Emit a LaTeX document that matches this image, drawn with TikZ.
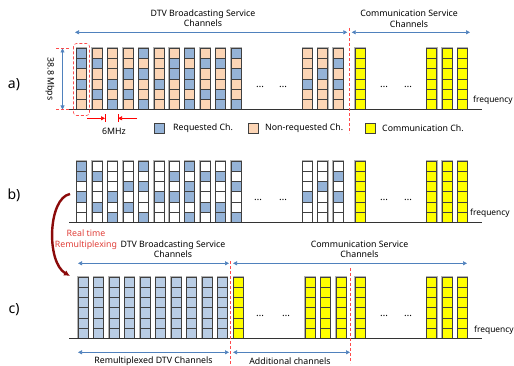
\documentclass[tikz,border=0pt]{standalone}
\usepackage{fontspec}
\setmainfont{Noto Sans}
\usetikzlibrary{arrows.meta}

\definecolor{req}{HTML}{95B3D7}
\definecolor{non}{HTML}{FCD5B5}
\definecolor{com}{HTML}{FFFF00}
\definecolor{rmx}{HTML}{B9CDE5}
\definecolor{arrblue}{HTML}{4F81BD}
\definecolor{cutred}{HTML}{FF4A4A}
\definecolor{remux}{HTML}{8B0A0A}
\definecolor{remtxt}{HTML}{E0403A}
\colorlet{a1}{req}\colorlet{a0}{non}
\colorlet{b1}{req}\colorlet{b0}{white}
\colorlet{y1}{com}\colorlet{c1}{rmx}

% one channel column: x, top, colour set, pattern of 6 cells
\newcommand{\chcol}[4]{%
  \edef\chpat{#4}%
  \draw[colframe] (#1,#2) rectangle ++(10,61.2);
  \foreach \cv [count=\rw from 0] in \chpat
    \filldraw[cell,fill=#3\cv] (#1,{#2+\rw*10.2}) rectangle ++(10,10.2);
}

\begin{document}
\begin{tikzpicture}
  [x=1pt,y=-1pt,
   every node/.style={font=\fontsize{8.8}{10.4}\selectfont,inner sep=0pt},
   cell/.style={draw=black!75,line width=.5pt},
   colframe/.style={draw=black!30,line width=1.6pt},
   band/.style={{Triangle[length=4pt,width=4pt]}-{Triangle[length=4pt,width=4pt]},draw=arrblue,line width=.6pt},
   cut/.style={draw=cutred,densely dashed,line width=.6pt},
   axis/.style={draw=black!80,line width=.8pt},
   mhz/.style={-{Triangle[length=4pt,width=4pt]},draw=red,line width=.6pt},
   legbox/.style={draw=black!75,minimum size=10pt},
   dots/.style={font=\fontsize{10}{12}\selectfont},
   freq/.style={anchor=west,font=\fontsize{8.4}{10}\selectfont},
   tag/.style={font=\fontsize{14}{16}\selectfont}]

  \useasboundingbox (0,0) rectangle (514,366);

  %%% a)
  \node[tag] (tagA) at (14,85) {a)};
  \node[align=center] (dtvA) at (203,18.5) {DTV Broadcasting Service\\Channels};
  \node[align=center] (comA) at (409,18.7) {Communication Service\\Channels};
  \coordinate (dtvAl) at (75,32.3);   \coordinate (dtvAr) at (347.3,32.3);
  \coordinate (comAl) at (351.7,32.3); \coordinate (comAr) at (470,32.3);
  \draw[band] (dtvAl) -- (dtvAr);
  \draw[band] (comAl) -- (comAr);

  \foreach \x/\p in {76.5/{1,1,0,1,0,0},91.95/{0,1,0,0,1,0},107.4/{0,0,0,1,0,1},
                     122.85/{0,0,1,0,1,0},138.3/{1,0,1,0,0,1},153.75/{0,0,0,1,0,0},
                     169.2/{0,1,1,0,0,0},184.65/{1,0,1,1,0,1},200.1/{0,1,0,0,1,0},
                     215.55/{0,1,0,0,1,1},231/{1,0,1,0,0,1},
                     302.3/{0,0,0,1,0,0},317.7/{0,0,1,0,0,0},333/{0,1,0,1,0,0}}
    \chcol{\x}{48.3}{a}{\p};
  \foreach \x in {355,426.7,442.2,457.6}
    \chcol{\x}{48.3}{y}{1,1,1,1,1,1};

  \node[dots] (dA1) at (260,87) {\dots};
  \node[dots] (dA2) at (283,87) {\dots};
  \node[dots] (dA3) at (384,87) {\dots};
  \node[dots] (dA4) at (408,87) {\dots};

  \coordinate (axAl) at (67,109.5); \coordinate (axAr) at (482,109.5);
  \draw[axis] (axAl) -- (axAr);
  \node[freq] (freqA) at (473,100) {frequency};

  % channel height
  \draw[cut] (56,48.5) -- (69,48.5);
  \draw[cut] (56,109.5) -- (69,109.5);
  \coordinate (mbT) at (62.5,48.5); \coordinate (mbB) at (62.5,109.5);
  \draw[band] (mbT) -- (mbB);
  \node[rotate=-90] (mbps) at (50,79) {38.8 Mbps};
  \draw[cut,rounded corners=3pt] (73.5,43.5) rectangle (89.5,115.5);

  % channel width
  \coordinate (mhzL) at (87,118.3);  \coordinate (mhzLt) at (105,118.3);
  \coordinate (mhzR) at (137,118.3); \coordinate (mhzRt) at (118,118.3);
  \draw[mhz] (mhzL) -- (mhzLt);
  \draw[mhz] (mhzR) -- (mhzRt);
  \draw[red,line width=.6pt] (105,114.3) -- (105,122.3);
  \draw[red,line width=.6pt] (118,114.3) -- (118,122.3);
  \node (mhz) at (114,131) {6MHz};

  % legend
  \node[legbox,fill=req] (legReq) at (159,128) {};
  \node[anchor=west] (txtReq) at (173,128) {Requested Ch.};
  \node[legbox,fill=non] (legNon) at (253,128) {};
  \node[anchor=west] (txtNon) at (265,128) {Non-requested Ch.};
  \node[legbox,fill=com] (legCom) at (370,128) {};
  \node[anchor=west] (txtCom) at (382,128) {Communication Ch.};

  \draw[cut] (349,28) -- (349,133);

  %%% b)
  \node[tag] (tagB) at (14,195) {b)};
  \foreach \x/\p in {76.5/{1,1,0,1,0,0},91.95/{0,1,0,0,1,0},107.4/{0,0,0,1,0,1},
                     122.85/{0,0,1,0,1,0},138.3/{1,0,1,0,0,1},153.75/{0,0,0,1,0,0},
                     169.2/{0,1,0,1,0,0},184.65/{1,0,1,1,0,1},200.1/{0,1,0,0,1,0},
                     215.55/{0,1,0,0,1,1},231/{1,0,1,0,0,1},
                     302.3/{0,0,0,1,0,0},317.7/{0,0,1,0,0,0},333/{0,1,0,1,0,0}}
    \chcol{\x}{161}{b}{\p};
  \foreach \x in {355,426.7,442.2,457.6}
    \chcol{\x}{161}{y}{1,1,1,1,1,1};

  \node[dots] (dB1) at (258,200) {\dots};
  \node[dots] (dB2) at (283,200) {\dots};
  \node[dots] (dB3) at (384,200) {\dots};
  \node[dots] (dB4) at (408,200) {\dots};

  \coordinate (axBl) at (69,222.3); \coordinate (axBr) at (482,222.3);
  \draw[axis] (axBl) -- (axBr);
  \node[freq] (freqB) at (470,213) {frequency};

  % remultiplexing
  \coordinate (rmFrom) at (70,194); \coordinate (rmTo) at (70,276);
  \draw[remux,line width=2.4pt,-{Latex[length=6pt,width=6pt]}]
    (rmFrom) .. controls (48,198) and (46,262) .. (rmTo);
  \node[align=center,text=remtxt,font=\fontsize{8.8}{11}\selectfont] (rmTxt) at (86,239.5) {Real time\\Remultiplexing};

  %%% c)
  \node[tag] (tagC) at (14,310) {c)};
  \node[align=center] (dtvC) at (173,249.2) {DTV Broadcasting Service\\Channels};
  \node[align=center] (comC) at (359.5,249.2) {Communication Service\\Channels};
  \coordinate (dtvCl) at (78,263.3);  \coordinate (dtvCr) at (229,263.3);
  \coordinate (comCl) at (233,263.3); \coordinate (comCr) at (467,263.3);
  \draw[band] (dtvCl) -- (dtvCr);
  \draw[band] (comCl) -- (comCr);

  \foreach \x in {78,93.5,...,217.5}
    \chcol{\x}{277}{c}{1,1,1,1,1,1};
  \foreach \x in {233.3,305,320.5,336,355,426.7,442.2,457.6}
    \chcol{\x}{277}{y}{1,1,1,1,1,1};

  \node[dots] (dC1) at (260,316) {\dots};
  \node[dots] (dC2) at (286,316) {\dots};
  \node[dots] (dC3) at (384,316) {\dots};
  \node[dots] (dC4) at (408,316) {\dots};

  \coordinate (axCl) at (69,338.3); \coordinate (axCr) at (482,338.3);
  \draw[axis] (axCl) -- (axCr);
  \node[freq] (freqC) at (474,330) {frequency};

  \draw[cut] (230,261) -- (230,366);
  \draw[cut] (350.7,268) -- (350.7,363);

  \coordinate (rmxl) at (78,352.3);  \coordinate (rmxr) at (229,352.3);
  \coordinate (addl) at (233,352.3); \coordinate (addr) at (350,352.3);
  \draw[band] (rmxl) -- (rmxr);
  \draw[band] (addl) -- (addr);
  \node (rmxTxt) at (153.5,361) {Remultiplexed DTV Channels};
  \node (addTxt) at (290,361) {Additional channels};
\end{tikzpicture}
\end{document}
